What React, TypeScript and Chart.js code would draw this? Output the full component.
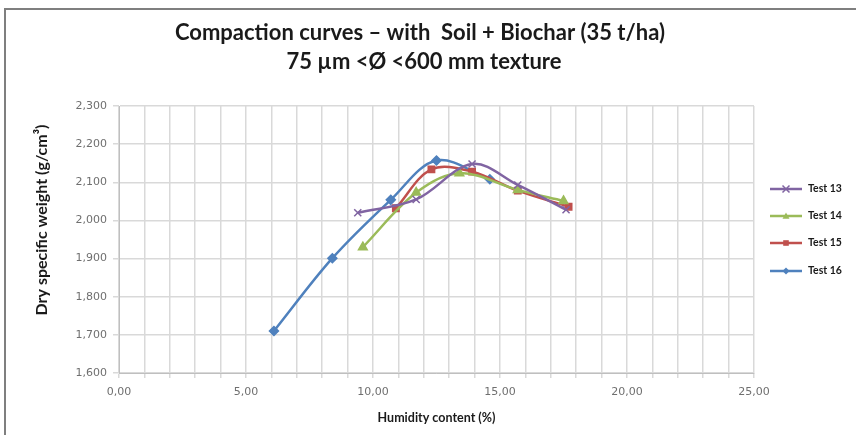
import React, { useEffect, useRef } from "react";
import { Chart, registerables } from "chart.js";

Chart.register(...registerables);

const titleLines = ["Compaction curves – with  Soil + Biochar (35 t/ha)", "75 µm <Ø <600 mm texture"];
const xAxisTitle = "Humidity content (%)";
const yAxisTitle = "Dry specific weight (g/cm³)";

const test13X = [9.4, 11.7, 13.9, 15.7, 17.6];
const test13Y = [2.02, 2.055, 2.148, 2.093, 2.028];
const test14X = [9.6, 11.7, 13.4, 15.7, 17.5];
const test14Y = [1.93, 2.073, 2.124, 2.08, 2.051];
const test15X = [10.9, 12.3, 13.9, 15.7, 17.7];
const test15Y = [2.032, 2.134, 2.128, 2.078, 2.036];
const test16X = [6.1, 8.4, 10.7, 12.5, 14.6];
const test16Y = [1.71, 1.901, 2.054, 2.157, 2.108];

const seriesNames = ["Test 13", "Test 14", "Test 15", "Test 16"];
const seriesColors = ["#8064A2", "#9BBB59", "#C0504D", "#4F81BD"];
const seriesMarkers = ["crossRot", "triangle", "rect", "rectRot"];
const seriesRadius = [5, 5, 4.5, 4.5];

const toPts = (xs: number[], ys: number[]) => xs.map((x, i) => ({ x, y: ys[i] }));

const FONT = "Lato, 'Open Sans', sans-serif";
const TICK_FONT = "'DejaVu Sans', sans-serif";

function drawMarker(ctx: CanvasRenderingContext2D, style: string, x: number, y: number, r: number, color: string) {
  ctx.save();
  ctx.fillStyle = color;
  ctx.strokeStyle = color;
  ctx.lineWidth = 1.5;
  ctx.beginPath();
  if (style === "crossRot") {
    ctx.moveTo(x - r, y - r);
    ctx.lineTo(x + r, y + r);
    ctx.moveTo(x + r, y - r);
    ctx.lineTo(x - r, y + r);
    ctx.stroke();
  } else if (style === "triangle") {
    ctx.moveTo(x, y - r);
    ctx.lineTo(x + r, y + r * 0.8);
    ctx.lineTo(x - r, y + r * 0.8);
    ctx.closePath();
    ctx.fill();
  } else if (style === "rect") {
    ctx.rect(x - r * 0.8, y - r * 0.8, r * 1.6, r * 1.6);
    ctx.fill();
  } else {
    ctx.moveTo(x, y - r);
    ctx.lineTo(x + r, y);
    ctx.lineTo(x, y + r);
    ctx.lineTo(x - r, y);
    ctx.closePath();
    ctx.fill();
  }
  ctx.restore();
}

const decorPlugin = {
  id: "decor",
  afterDraw(chart: any) {
    const ctx = chart.ctx as CanvasRenderingContext2D;
    const area = chart.chartArea;
    ctx.save();
    // outer border
    ctx.strokeStyle = "#7f7f7f";
    ctx.lineWidth = 2;
    ctx.beginPath();
    ctx.moveTo(5, 440);
    ctx.lineTo(5, 9);
    ctx.lineTo(860, 9);
    ctx.stroke();
    // title
    ctx.fillStyle = "#1a1a1a";
    ctx.textAlign = "center";
    ctx.textBaseline = "middle";
    ctx.font = `bold 22px ${FONT}`;
    ctx.fillText(titleLines[0], 420, 33);
    ctx.fillText(titleLines[1], 424, 62);
    // x axis title
    ctx.font = `bold 12.5px ${FONT}`;
    ctx.fillText(xAxisTitle, (area.left + area.right) / 2, 418);
    // y axis title
    ctx.save();
    ctx.translate(42, 220);
    ctx.rotate(-Math.PI / 2);
    ctx.font = `bold 16px ${FONT}`;
    ctx.fillText(yAxisTitle, 0, 0);
    ctx.restore();
    // legend
    const rows = [189, 216, 243, 271];
    chart.data.datasets.forEach((ds: any, i: number) => {
      const y = rows[i];
      ctx.strokeStyle = ds.borderColor;
      ctx.lineWidth = 2.5;
      ctx.beginPath();
      ctx.moveTo(770, y);
      ctx.lineTo(802, y);
      ctx.stroke();
      drawMarker(ctx, ds.pointStyle, 786, y, 3.5, ds.borderColor);
      ctx.fillStyle = "#1a1a1a";
      ctx.textAlign = "left";
      ctx.textBaseline = "middle";
      ctx.font = `bold 10.5px ${FONT}`;
      ctx.fillText(ds.label, 808, y);
    });
    ctx.restore();
  },
};

export default function App() {
  const ref = useRef<HTMLCanvasElement | null>(null);
  useEffect(() => {
    document.body.style.margin = "0";
    const xs = [test13X, test14X, test15X, test16X];
    const ys = [test13Y, test14Y, test15Y, test16Y];
    const chart = new Chart(ref.current as HTMLCanvasElement, {
      type: "line",
      data: {
        datasets: seriesNames.map((name, i) => ({
          label: name,
          data: toPts(xs[i], ys[i]),
          borderColor: seriesColors[i],
          backgroundColor: seriesColors[i],
          pointStyle: seriesMarkers[i] as any,
          pointRadius: seriesRadius[i],
          pointBorderWidth: 1.5,
          borderWidth: 2.5,
          tension: 0.35,
          fill: false,
        })),
      },
      options: {
        animation: false,
        responsive: false,
        maintainAspectRatio: false,
        layout: { padding: { top: 106, left: 0, right: 102, bottom: 0 } },
        plugins: {
          legend: { display: false },
          title: { display: false },
          tooltip: { enabled: false },
        },
        scales: {
          x: {
            type: "linear",
            min: 0,
            max: 25,
            afterFit: (s: any) => {
              s.height = 62;
            },
            border: { color: "#bfbfbf", width: 1 },
            grid: { color: "#d9d9d9", lineWidth: 1.5, tickLength: 5, drawTicks: true },
            ticks: {
              stepSize: 1,
              autoSkip: false,
              maxRotation: 0,
              padding: 8,
              color: "#6f6f6f",
              font: { family: TICK_FONT, size: 11 },
              callback: (v: any) => (Math.round(v) % 5 === 0 ? Number(v).toFixed(2).replace(".", ",") : ""),
            },
          },
          y: {
            type: "linear",
            min: 1.6,
            max: 2.3,
            afterFit: (s: any) => {
              s.width = 119;
            },
            border: { color: "#bfbfbf", width: 1 },
            grid: { color: "#d9d9d9", lineWidth: 1.5, tickLength: 6 },
            ticks: {
              stepSize: 0.1,
              padding: 6,
              color: "#6f6f6f",
              font: { family: TICK_FONT, size: 11 },
              callback: (v: any) => Number(v).toFixed(3).replace(".", ","),
            },
          },
        },
      },
      plugins: [decorPlugin],
    });
    return () => chart.destroy();
  }, []);
  return (
    <div style={{ position: "fixed", left: 0, top: 0, width: 856, height: 435, background: "#fff" }}>
      <canvas ref={ref} width={856} height={435} style={{ width: 856, height: 435 }} />
    </div>
  );
}
